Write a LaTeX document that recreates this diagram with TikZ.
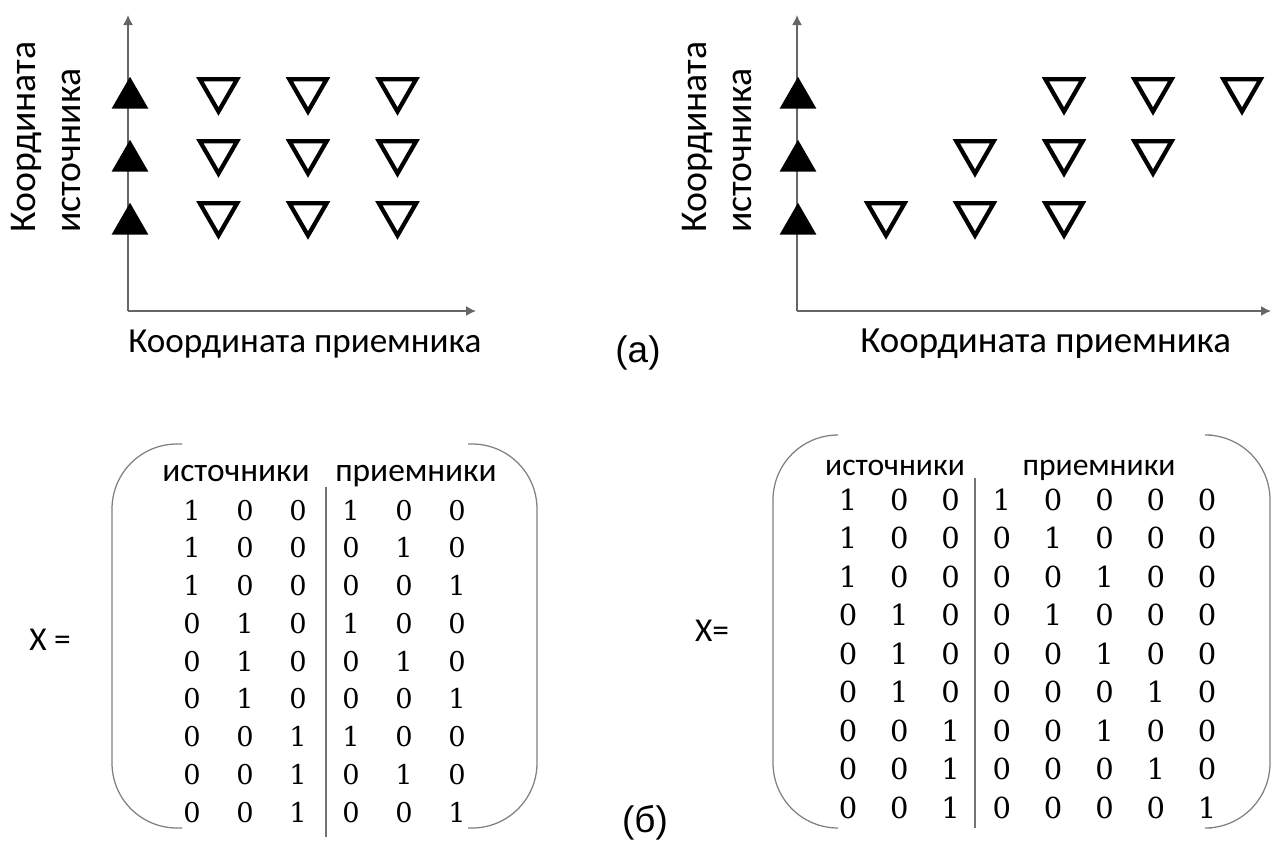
\documentclass[tikz,border=0pt]{standalone}
\usepackage{fontspec}
\setmainfont{Carlito}
\newfontfamily\numfont{DejaVu Serif}
\newfontfamily\tagfont{Liberation Sans}
\usetikzlibrary{shapes.geometric,arrows.meta}

\begin{document}
\begin{tikzpicture}[x=0.02cm,y=-0.02cm,
	axis/.style={draw=black!60, line width=0.03cm, -{Latex[length=0.2cm,width=0.2cm]}},
	src/.style={regular polygon, regular polygon sides=3, fill=black, inner sep=0pt, minimum size=0.85cm},
	rcv/.style={regular polygon, regular polygon sides=3, shape border rotate=180, draw=black, line width=0.085cm, inner sep=0pt, minimum size=0.86cm},
	axlabel/.style={font=\fontsize{20}{24}\selectfont, inner sep=0pt},
	sidelabel/.style={font=\fontsize{21.5}{26}\selectfont, inner sep=0pt, rotate=90, anchor=base west},
	head/.style={font=\fontsize{19}{22}\selectfont, inner sep=0pt, anchor=base},
	cell/.style={font=\numfont\fontsize{15.5}{20}\selectfont, inner sep=0pt, anchor=base},
	brace/.style={draw=black!50, line width=0.025cm, rounded corners=1.3cm},
	sep/.style={draw=black!55, line width=0.03cm}]
	\useasboundingbox (0,0) rectangle (1271,846);

	% (a) left
	\coordinate (oA) at (128,311);
	\coordinate (yA) at (128,15);
	\coordinate (xA) at (476,311);
	\draw[axis] (oA) -- (yA);
	\draw[axis] (oA) -- (xA);
	\foreach \r in {1,2,3} \node[src] (sA\r) at (130,{98+63*(\r-1)}) {};
	\foreach \r in {1,2,3} \foreach \k in {1,2,3}
		\node[rcv] (rA\r\k) at ({129+89.5*\k},{90+62*(\r-1)}) {};
	\node[sidelabel] (yA1) at (35,233) {Координата};
	\node[sidelabel] (yA2) at (80,233) {источника};
	\node[axlabel, anchor=base west] (xlA) at (128,352) {Координата приемника};

	% (a) right
	\coordinate (oB) at (797,311);
	\coordinate (yB) at (797,15);
	\coordinate (xB) at (1271,311);
	\draw[axis] (oB) -- (yB);
	\draw[axis] (oB) -- (xB);
	\foreach \r in {1,2,3} \node[src] (sB\r) at (798,{98+63*(\r-1)}) {};
	\foreach \r in {1,2,3} \foreach \k in {0,1,2}
		\node[rcv] (rB\r\k) at ({797+89*(4-\r+\k)},{90+62*(\r-1)}) {};
	\node[sidelabel] (yB1) at (706,233) {Координата};
	\node[sidelabel] (yB2) at (751,233) {источника};
	\node[axlabel, font=\fontsize{21}{24}\selectfont, anchor=base west] (xlB) at (860,352) {Координата приемника};

	\node[font=\tagfont\fontsize{21}{24}\selectfont] (tagA) at (638,353) {(а)};

	% (b) left matrix
	\node[font=\fontsize{19}{22}\selectfont] (xeqA) at (50,640) {X =};
	\draw[brace] (182,444) -- (112,444) -- (112,828) -- (182,828);
	\draw[brace] (468,444) -- (537,444) -- (537,828) -- (468,828);
	\node[head] (hsA) at (236,481) {источники};
	\node[head] (hrA) at (416,481) {приемники};
	\coordinate (dA1) at (326,487);
	\coordinate (dA2) at (326,837);
	\draw[sep] (dA1) -- (dA2);
	\foreach \row [count=\r] in {{1,0,0,1,0,0},{1,0,0,0,1,0},{1,0,0,0,0,1},
		{0,1,0,1,0,0},{0,1,0,0,1,0},{0,1,0,0,0,1},
		{0,0,1,1,0,0},{0,0,1,0,1,0},{0,0,1,0,0,1}}
		\foreach \v [count=\c] in \row
			\node[cell] (mA\r-\c) at ({192+53*(\c-1)},{520+37.75*(\r-1)}) {\v};

	% (b) right matrix
	\node[font=\fontsize{19}{22}\selectfont] (xeqB) at (712,631) {X=};
	\draw[brace] (838,435) -- (773,435) -- (773,828) -- (838,828);
	\draw[brace] (1212,435) -- (1270,435) -- (1270,828) -- (1212,828);
	\node[head, font=\fontsize{18}{22}\selectfont] (hsB) at (895,475) {источники};
	\node[head, font=\fontsize{18}{22}\selectfont] (hrB) at (1099,475) {приемники};
	\coordinate (dB1) at (975,478);
	\coordinate (dB2) at (975,828);
	\draw[sep] (dB1) -- (dB2);
	\foreach \row [count=\r] in {{1,0,0,1,0,0,0,0},{1,0,0,0,1,0,0,0},{1,0,0,0,0,1,0,0},
		{0,1,0,0,1,0,0,0},{0,1,0,0,0,1,0,0},{0,1,0,0,0,0,1,0},
		{0,0,1,0,0,1,0,0},{0,0,1,0,0,0,1,0},{0,0,1,0,0,0,0,1}}
		\foreach \v [count=\c] in \row
			\node[cell, font=\numfont\fontsize{16.5}{20}\selectfont] (mB\r-\c) at ({848+51.3*(\c-1)},{510+38.5*(\r-1)}) {\v};

	\node[font=\tagfont\fontsize{21}{24}\selectfont] (tagB) at (645,823) {(б)};
\end{tikzpicture}
\end{document}
